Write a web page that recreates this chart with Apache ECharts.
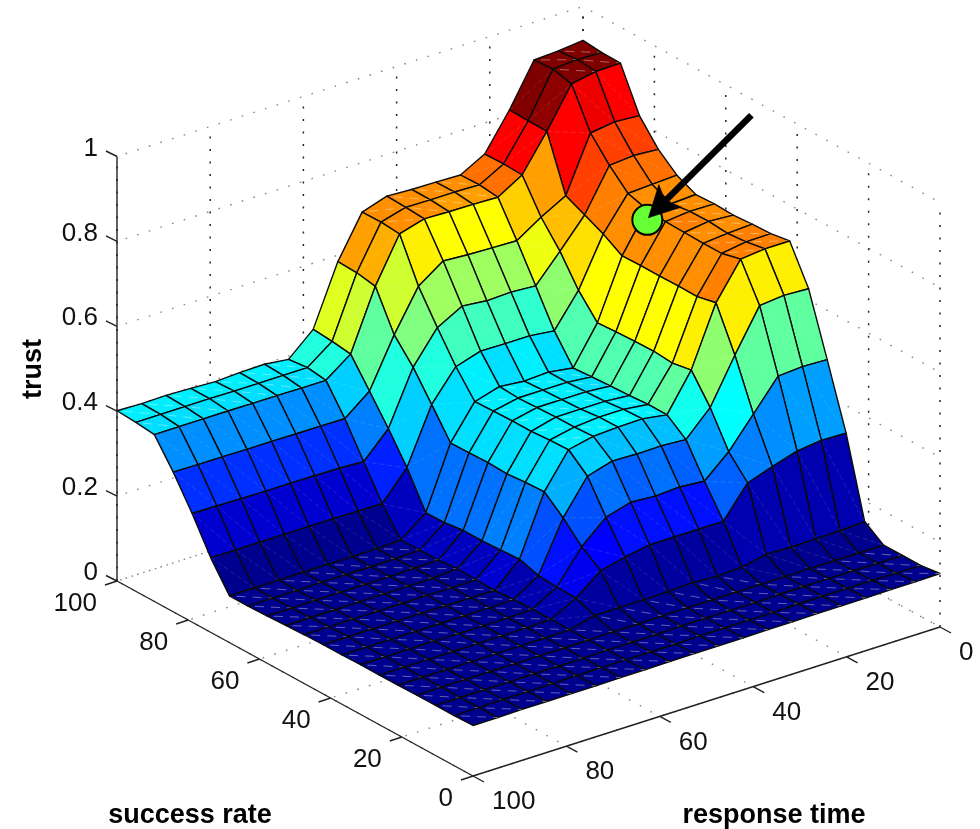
<!DOCTYPE html>
<html>
<head>
<meta charset="utf-8">
<style>html,body{margin:0;padding:0;background:#fff}#c{width:980px;height:829px}</style>
<script src="https://cdn.jsdelivr.net/npm/echarts@6/dist/echarts.min.js"></script>
</head>
<body>
<div id="c"></div>
<script>
// grid of the surface: response time 100 -> 0 (columns), success rate 0 -> 100 (rows)
const responseTimes = [100,94.7,89.5,84.2,78.9,73.7,68.4,63.2,57.9,52.6,47.4,42.1,36.8,31.6,26.3,21.1,15.8,10.5,5.3,0];
const successRates  = [0,5.3,10.5,15.8,21.1,26.3,31.6,36.8,42.1,47.4,52.6,57.9,63.2,68.4,73.7,78.9,84.2,89.5,94.7,100];

const trustS00 = [.119,.119,.120,.120,.120,.120,.121,.121,.122,.122,.122,.122,.123,.123,.124,.124,.124,.125,.125,.126];
const trustS01 = [.118,.118,.119,.119,.119,.120,.120,.120,.120,.120,.121,.121,.121,.121,.122,.122,.122,.122,.121,.120];
const trustS02 = [.118,.118,.118,.118,.118,.118,.118,.119,.119,.119,.120,.120,.120,.120,.121,.121,.121,.121,.120,.120];
const trustS03 = [.118,.118,.118,.118,.118,.118,.118,.118,.119,.119,.120,.120,.120,.120,.120,.120,.120,.120,.120,.120];
const trustS04 = [.117,.117,.117,.117,.117,.117,.117,.118,.133,.133,.133,.134,.137,.133,.136,.148,.146,.147,.148,.151];
const trustS05 = [.117,.117,.117,.117,.117,.117,.117,.119,.150,.196,.210,.220,.220,.220,.220,.292,.312,.330,.337,.335];
const trustS06 = [.117,.117,.117,.117,.116,.116,.116,.118,.152,.228,.279,.296,.292,.295,.290,.341,.411,.482,.486,.484];
const trustS07 = [.116,.116,.116,.116,.116,.116,.116,.117,.155,.272,.352,.369,.367,.368,.364,.421,.526,.624,.630,.627];
const trustS08 = [.116,.116,.116,.116,.116,.115,.115,.114,.169,.309,.390,.403,.406,.407,.398,.485,.625,.709,.715,.715];
const trustS09 = [.115,.115,.115,.115,.115,.115,.114,.115,.166,.307,.388,.400,.405,.405,.398,.477,.615,.698,.707,.708];
const trustS10 = [.113,.113,.113,.113,.113,.113,.113,.117,.164,.303,.385,.400,.400,.400,.395,.481,.616,.698,.703,.706];
const trustS11 = [.111,.111,.111,.111,.111,.111,.112,.113,.164,.305,.385,.398,.398,.398,.393,.480,.615,.699,.707,.703];
const trustS12 = [.110,.110,.110,.110,.110,.110,.110,.112,.158,.304,.384,.396,.396,.396,.390,.478,.615,.700,.706,.705];
const trustS13 = [.110,.110,.110,.110,.110,.110,.110,.112,.157,.303,.382,.399,.393,.396,.387,.475,.614,.705,.700,.703];
const trustS14 = [.176,.175,.175,.175,.175,.175,.174,.173,.239,.369,.440,.458,.457,.457,.450,.527,.641,.718,.721,.724];
const trustS15 = [.256,.255,.254,.253,.253,.252,.251,.248,.307,.433,.508,.540,.534,.536,.532,.595,.662,.760,.765,.761];
const trustS16 = [.329,.328,.328,.327,.327,.326,.326,.325,.371,.485,.581,.622,.618,.616,.614,.651,.683,.812,.820,.816];
const trustS17 = [.393,.393,.393,.393,.392,.392,.391,.391,.434,.575,.680,.697,.695,.694,.692,.726,.810,.903,.914,.915];
const trustS18 = [.398,.398,.398,.398,.397,.397,.397,.397,.440,.583,.684,.700,.699,.699,.697,.728,.811,.914,.918,.916];
const trustS19 = [.401,.399,.400,.398,.395,.398,.399,.392,.444,.585,.683,.702,.699,.698,.696,.727,.812,.911,.914,.920];
const trustRows = [trustS00,trustS01,trustS02,trustS03,trustS04,trustS05,trustS06,trustS07,trustS08,trustS09,
                   trustS10,trustS11,trustS12,trustS13,trustS14,trustS15,trustS16,trustS17,trustS18,trustS19];

// axis ticks
const responseTicks = [0,20,40,60,80,100];
const successTicks  = [0,20,40,60,80,100];
const trustTicks    = [0,0.2,0.4,0.6,0.8,1];

// highlighted point and the arrow pointing at it
const pointResponse = 10.4, pointSuccess = 68.4, pointTrust = 0.68;
const arrowTailResponse = 4, arrowTailSuccess = 47.6, arrowTailTrust = 1.0;

// colour limits of the jet map
const colorMin = 0.118, colorMax = 0.920;

// ---- view of the 3-D box on the page (axis units below are page units)
const CORNER_FRONT = [473,776], CORNER_RIGHT = [940,627], CORNER_LEFT = [117,581], CORNER_BACK = [583,431];
const Z_SCALE = 424.5;

function project(r, s, z) {
  const u = (100 - r) / 100, v = s / 100;
  const bil = k => (1-u)*(1-v)*CORNER_FRONT[k] + u*(1-v)*CORNER_RIGHT[k] + (1-u)*v*CORNER_LEFT[k] + u*v*CORNER_BACK[k];
  return [bil(0), bil(1) - Z_SCALE * z];
}

function jet(z) {
  const idx = Math.max(0, Math.min(63, Math.floor((z - colorMin) / (colorMax - colorMin) * 64)));
  const x = (idx + 1) / 64;
  const c = v => Math.round(255 * Math.max(0, Math.min(1, v)));
  return 'rgb(' + c(1.5 - Math.abs(4*x - 3)) + ',' + c(1.5 - Math.abs(4*x - 2)) + ',' + c(1.5 - Math.abs(4*x - 1)) + ')';
}

// cells back to front
const cellData = [];
for (let j = successRates.length - 2; j >= 0; j--) {
  for (let a = responseTimes.length - 2; a >= 0; a--) cellData.push([a, j]);
}

// box lines: [r0,s0,z0,r1,s1,z1,vertical?]
const gridLines = [];
trustTicks.forEach(z => {
  gridLines.push([100,100,z,0,100,z,0]);
  gridLines.push([0,100,z,0,0,z,0]);
});
responseTicks.forEach(r => {
  gridLines.push([r,100,0,r,100,1,1]);
  gridLines.push([r,0,0,r,100,0,0]);
});
successTicks.forEach(s => {
  gridLines.push([0,s,0,0,s,1,1]);
  gridLines.push([0,s,0,100,s,0,0]);
});

const axisLines = [
  [100,100,0,100,100,1],
  [100,100,0,100,0,0],
  [100,0,0,0,0,0]
];

const TICK_FONT = '26px "Liberation Sans", Arial, sans-serif';
const TITLE_FONT = 'bold 27px "Liberation Sans", Arial, sans-serif';

const chart = echarts.init(document.getElementById('c'), null, {renderer: 'canvas', width: 980, height: 829});

function lineEl(api, a, b, style) {
  const p = api.coord(a), q = api.coord(b);
  return {type: 'line', shape: {x1: p[0], y1: p[1], x2: q[0], y2: q[1]}, style: style, silent: true};
}

const option = {
  animation: false,
  backgroundColor: '#ffffff',
  grid: {left: 0, right: 0, top: 0, bottom: 0, containLabel: false},
  xAxis: {type: 'value', min: 0, max: 980, show: false},
  yAxis: {type: 'value', min: 0, max: 829, inverse: true, show: false},
  series: [
    { // dotted back walls and floor
      type: 'custom', coordinateSystem: 'cartesian2d', clip: false, silent: true, z: 1,
      data: gridLines,
      renderItem: (params, api) => {
        const d = gridLines[params.dataIndex];
        return lineEl(api, project(d[0],d[1],d[2]), project(d[3],d[4],d[5]),
          d[6] ? {stroke: '#222', lineWidth: 1.5, lineDash: [2, 10.5], fill: null}
               : {stroke: '#888', lineWidth: 1.4, lineDash: [1.6, 10.6], lineDashOffset: -9, fill: null});
      }
    },
    { // solid axes
      type: 'custom', coordinateSystem: 'cartesian2d', clip: false, silent: true, z: 2,
      data: axisLines,
      renderItem: (params, api) => {
        const d = axisLines[params.dataIndex];
        return lineEl(api, project(d[0],d[1],d[2]), project(d[3],d[4],d[5]),
          {stroke: '#222', lineWidth: 1.4, fill: null});
      }
    },
    { // tick marks and labels, trust axis
      type: 'custom', coordinateSystem: 'cartesian2d', clip: false, silent: true, z: 3,
      data: trustTicks,
      renderItem: (params, api) => {
        const z = trustTicks[params.dataIndex];
        const c = api.coord(project(100,100,z));
        return {type: 'group', children: [
          {type: 'line', shape: {x1: c[0], y1: c[1], x2: c[0]-11, y2: c[1]-5.5}, style: {stroke: '#222', lineWidth: 1.4}},
          {type: 'text', style: {text: String(z), x: c[0]-19, y: c[1]-8, align: 'right', verticalAlign: 'middle', font: TICK_FONT, fill: '#111'}}
        ]};
      }
    },
    { // tick marks and labels, success rate axis
      type: 'custom', coordinateSystem: 'cartesian2d', clip: false, silent: true, z: 3,
      data: successTicks,
      renderItem: (params, api) => {
        const s = successTicks[params.dataIndex];
        const c = api.coord(project(100,s,0));
        return {type: 'group', children: [
          {type: 'line', shape: {x1: c[0], y1: c[1], x2: c[0]-12, y2: c[1]+4}, style: {stroke: '#222', lineWidth: 1.4}},
          {type: 'text', style: {text: String(s), x: c[0]-20, y: c[1]+23, align: 'right', verticalAlign: 'middle', font: TICK_FONT, fill: '#111'}}
        ]};
      }
    },
    { // tick marks and labels, response time axis
      type: 'custom', coordinateSystem: 'cartesian2d', clip: false, silent: true, z: 3,
      data: responseTicks,
      renderItem: (params, api) => {
        const r = responseTicks[params.dataIndex];
        const c = api.coord(project(r,0,0));
        return {type: 'group', children: [
          {type: 'line', shape: {x1: c[0], y1: c[1], x2: c[0]+11, y2: c[1]+6}, style: {stroke: '#222', lineWidth: 1.4}},
          {type: 'text', style: {text: String(r), x: c[0]+19, y: c[1]+26, align: 'left', verticalAlign: 'middle', font: TICK_FONT, fill: '#111'}}
        ]};
      }
    },
    { // the surface
      type: 'custom', coordinateSystem: 'cartesian2d', clip: false, silent: true, z: 5,
      data: cellData,
      renderItem: (params, api) => {
        const [a, j] = cellData[params.dataIndex];
        const corner = (ca, cj) => api.coord(project(responseTimes[ca], successRates[cj], trustRows[cj][ca]));
        const p00 = corner(a, j), p10 = corner(a+1, j), p11 = corner(a+1, j+1), p01 = corner(a, j+1);
        const flat = Math.max(trustRows[j][a], trustRows[j][a+1], trustRows[j+1][a], trustRows[j+1][a+1])
                   - Math.min(trustRows[j][a], trustRows[j][a+1], trustRows[j+1][a], trustRows[j+1][a+1]) < 0.02;
        return {type: 'group', children: [
          {type: 'polygon', shape: {points: [p00, p10, p11, p01]},
           style: {fill: jet(trustRows[j][a+1]), stroke: '#0a0a0a', lineWidth: 1.4, lineJoin: 'round'}},
          {type: 'line', shape: {x1: p01[0], y1: p01[1], x2: p10[0], y2: p10[1]},
           style: flat ? {stroke: 'rgba(255,255,255,0.42)', lineWidth: 0.9, lineDash: [9, 7], lineDashOffset: 9}
                       : {stroke: 'rgba(255,255,255,0.16)', lineWidth: 0.8, lineDash: [5, 3]}}
        ]};
      }
    },
    { // highlighted point and arrow
      type: 'custom', coordinateSystem: 'cartesian2d', clip: false, silent: true, z: 8,
      data: [[pointResponse, pointSuccess, pointTrust]],
      renderItem: (params, api) => {
        const c = api.coord(project(pointResponse, pointSuccess, pointTrust));
        const t = api.coord(project(arrowTailResponse, arrowTailSuccess, arrowTailTrust));
        const dx = c[0]-t[0], dy = c[1]-t[1], L = Math.hypot(dx, dy), ux = dx/L, uy = dy/L, nx = -uy, ny = ux;
        const tip = [c[0]+1, c[1]-2];
        const at = (along, side) => [tip[0]-ux*along+nx*side, tip[1]-uy*along+ny*side];
        return {type: 'group', children: [
          {type: 'circle', shape: {cx: c[0], cy: c[1], r: 15}, style: {fill: '#66ff33', stroke: '#000', lineWidth: 2}},
          {type: 'line', shape: {x1: t[0], y1: t[1], x2: tip[0]-ux*22, y2: tip[1]-uy*22}, style: {stroke: '#000', lineWidth: 6.5}},
          {type: 'polygon', shape: {points: [tip, at(31,16), at(24,0), at(31,-16)]}, style: {fill: '#000', stroke: '#000', lineWidth: 0.5}}
        ]};
      }
    },
    { // axis titles
      type: 'custom', coordinateSystem: 'cartesian2d', clip: false, silent: true, z: 9,
      data: [0],
      renderItem: (params, api) => {
        return {type: 'group', children: [
          {type: 'text', x: 34, y: 369, rotation: Math.PI/2, style: {text: 'trust', x: 0, y: 0, align: 'center', verticalAlign: 'middle', font: TITLE_FONT, fill: '#000'}},
          {type: 'text', style: {text: 'success rate', x: 190, y: 816, align: 'center', verticalAlign: 'middle', font: TITLE_FONT, fill: '#000'}},
          {type: 'text', style: {text: 'response time', x: 774, y: 816, align: 'center', verticalAlign: 'middle', font: TITLE_FONT, fill: '#000'}}
        ]};
      }
    }
  ]
};
chart.setOption(option);
</script>
</body>
</html>
